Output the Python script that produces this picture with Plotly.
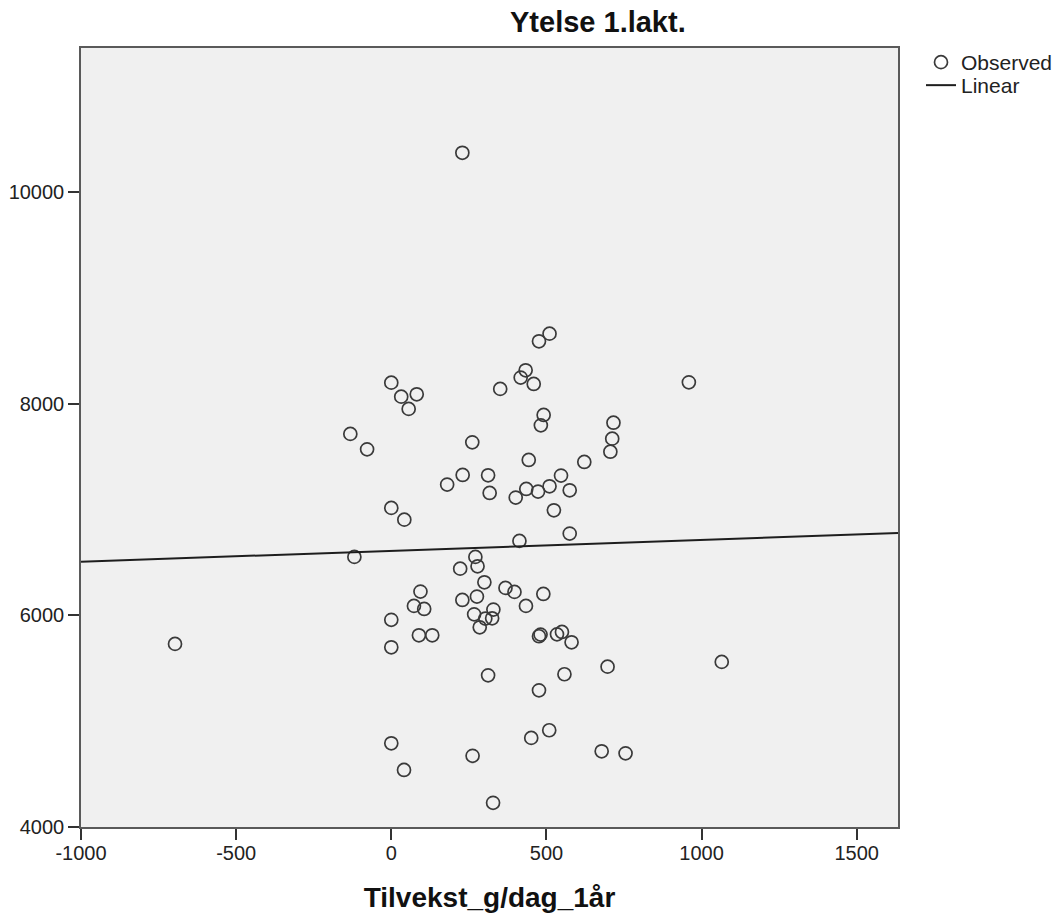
import numpy as np
import plotly.graph_objects as go

# Observed data: Tilvekst_g/dag_1år (x) vs Ytelse 1.lakt. (y)
tilvekst = [229, 510, 476, 433, 417, 459, 351, 0, 32, 82,
            56, 491, 482, -132, -78, 716, 712, 706, 261, 443,
            622, 180, 230, 312, 317, 401, 435, 473, 510, 547,
            575, 524, 0, 42, 575, 413, -119, -697, 94, 73,
            106, 0, 89, 132, 0, 271, 278, 222, 300, 368,
            397, 490, 434, 229, 276, 329, 267, 303, 325, 285,
            481, 476, 534, 550, 581, 312, 558, 697, 476, 1065,
            0, 41, 262, 451, 509, 678, 755, 328, 959]
ytelse = [10370, 8661, 8589, 8315, 8246, 8186, 8139, 8198, 8066, 8088,
          7950, 7893, 7795, 7714, 7568, 7820, 7669, 7546, 7634, 7468,
          7449, 7235, 7326, 7323, 7156, 7112, 7194, 7169, 7219, 7320,
          7181, 6992, 7015, 6904, 6772, 6703, 6552, 5730, 6224, 6089,
          6060, 5957, 5811, 5811, 5698, 6552, 6463, 6441, 6312, 6259,
          6221, 6202, 6089, 6145, 6177, 6054, 6009, 5969, 5972, 5887,
          5818, 5802, 5820, 5843, 5745, 5433, 5443, 5515, 5291, 5560,
          4791, 4539, 4672, 4842, 4914, 4715, 4696, 4228, 8201]

# Linear fit
fit_intercept = 6609
fit_slope = 0.103

x_range = [-1000, 1633]
y_range = [4000, 11360]
x_ticks = [-1000, -500, 0, 500, 1000, 1500]
x_tick_labels = ["-1000", "-500", "0", "500", "1000", "1500"]
y_ticks = [4000, 6000, 8000, 10000]
y_tick_labels = ["4000", "6000", "8000", "10000"]

title_text = "Ytelse 1.lakt."
x_title = "Tilvekst_g/dag_1år"

FONT = "Arial, Liberation Sans, sans-serif"

W, H = 1060, 917
ML, MR, MT, MB = 81, 162, 48, 90
plot_w = W - ML - MR
plot_h = H - MT - MB

fit_x = np.array(x_range, dtype=float)
fit_y = fit_intercept + fit_slope * fit_x

fig = go.Figure()
fig.add_trace(go.Scatter(
    x=tilvekst, y=ytelse, mode="markers", name="Observed", legend="legend",
    marker=dict(symbol="circle-open", size=13, color="#3a3a3a",
                line=dict(width=1.7, color="#3a3a3a")),
))
fig.add_trace(go.Scatter(
    x=fit_x, y=fit_y, mode="lines", name="Linear", legend="legend2",
    line=dict(color="#1e1e1e", width=2),
))

axis_common = dict(
    showgrid=False, zeroline=False, showline=True, mirror=True,
    linecolor="#5a5a5a", linewidth=1.5, automargin=False,
    ticks="outside", ticklen=11, tickwidth=1.5, tickcolor="#333333",
    tickfont=dict(family=FONT, size=20, color="#222222"),
)

legend_common = dict(
    xref="container", yref="container",
    xanchor="left", yanchor="top",
    font=dict(family=FONT, size=21, color="#222222"),
    bgcolor="rgba(0,0,0,0)",
)

fig.update_layout(
    width=W, height=H,
    margin=dict(l=ML, r=MR, t=MT, b=MB, autoexpand=False),
    paper_bgcolor="white", plot_bgcolor="#f0f0f0",
    showlegend=True,
    legend=dict(x=921 / W, y=1 - 42 / H, **legend_common),
    legend2=dict(x=921 / W, y=1 - 65 / H, **legend_common),
    xaxis=dict(range=x_range, tickvals=x_ticks, ticktext=x_tick_labels,
               ticklabelstandoff=-4, **axis_common,
               title=dict(text=x_title, standoff=25,
                          font=dict(family=FONT, size=28, color="#111111", weight="bold"))),
    yaxis=dict(range=y_range, tickvals=y_ticks, ticktext=y_tick_labels, **axis_common),
    annotations=[dict(
        text=title_text, xref="paper", yref="paper",
        x=(598 - ML) / plot_w, y=1 + (MT - 22) / plot_h,
        xanchor="center", yanchor="middle", showarrow=False,
        font=dict(family=FONT, size=29, color="#111111", weight="bold"),
    )],
)

fig.write_html("out.html", config={"displayModeBar": False},
               post_script="document.body.style.margin='0';")
